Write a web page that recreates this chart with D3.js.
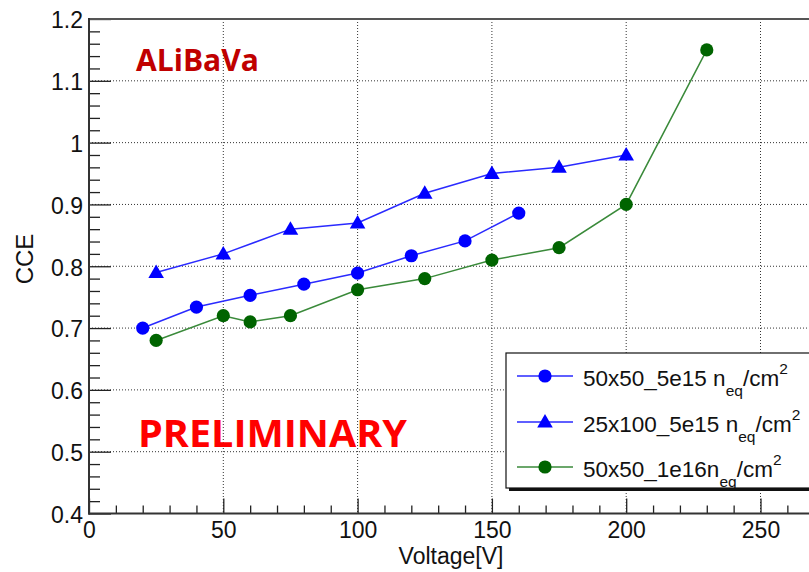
<!DOCTYPE html>
<html>
<head>
<meta charset="utf-8">
<script src="https://cdn.jsdelivr.net/npm/d3@7"></script>
<style>
  html, body { margin: 0; padding: 0; background: #fff; }
  svg { display: block; }
  text { font-family: "Liberation Sans", Arial, Helvetica, sans-serif; }
</style>
</head>
<body>
<svg id="chart" width="809" height="572"></svg>
<script>
// ---- data ----
const s1Voltage = [20, 40, 60, 80, 100, 120, 140, 160];
const s1CCE     = [0.700, 0.734, 0.753, 0.771, 0.789, 0.817, 0.841, 0.886];

const s2Voltage = [25, 50, 75, 100, 125, 150, 175, 200];
const s2CCE     = [0.790, 0.820, 0.860, 0.870, 0.918, 0.950, 0.960, 0.980];

const s3Voltage = [25, 50, 60, 75, 100, 125, 150, 175, 200, 230];
const s3CCE     = [0.680, 0.720, 0.710, 0.720, 0.762, 0.780, 0.810, 0.830, 0.900, 1.150];

const xMajorTicks = [0, 50, 100, 150, 200, 250];
const yMajorTicks = [0.4, 0.5, 0.6, 0.7, 0.8, 0.9, 1.0, 1.1, 1.2];

const seriesNames = ["50x50_5e15 n", "25x100_5e15 n", "50x50_1e16n"];

(function () {
// ---- layout ----
const svg = d3.select("#chart");
const pLeft = 89, pTop = 19, pBottom = 513.5;
const x = d3.scaleLinear().domain([0, 275]).range([pLeft, pLeft + 275 * 2.686]);
const y = d3.scaleLinear().domain([0.4, 1.2]).range([pBottom, pTop]);
const pRight = x.range()[1];

const xMinor = d3.range(0, 271, 10).filter(v => v % 50 !== 0);
const yMinor = d3.range(0, 41).map(i => 0.4 + i * 0.02).filter(v => Math.abs(v * 10 - Math.round(v * 10)) > 1e-6);

// grid
const grid = svg.append("g").attr("stroke", "#333").attr("stroke-width", 1).attr("stroke-dasharray", "1,2");
xMajorTicks.filter(v => v > 0).forEach(v => {
  grid.append("line").attr("x1", x(v)).attr("x2", x(v)).attr("y1", pTop).attr("y2", pBottom);
});
yMajorTicks.filter(v => v > 0.45 && v < 1.15).forEach(v => {
  grid.append("line").attr("x1", pLeft).attr("x2", pRight).attr("y1", y(v)).attr("y2", y(v));
});

// axes
const fmt = d => String(+d.toFixed(1));
const yAxis = svg.append("g").attr("transform", `translate(${pLeft},0)`)
  .call(d3.axisLeft(y).tickValues(yMajorTicks).tickSize(-22).tickPadding(6).tickFormat(fmt));
const yAxisMinor = svg.append("g").attr("transform", `translate(${pLeft},0)`)
  .call(d3.axisLeft(y).tickValues(yMinor).tickSize(-11).tickFormat(""));
const xAxis = svg.append("g").attr("transform", `translate(0,${pBottom})`)
  .call(d3.axisBottom(x).tickValues(xMajorTicks).tickSize(-15).tickPadding(8).tickFormat(d3.format("d")));
const xAxisMinor = svg.append("g").attr("transform", `translate(0,${pBottom})`)
  .call(d3.axisBottom(x).tickValues(xMinor).tickSize(-8).tickFormat(""));
[yAxis, yAxisMinor, xAxis, xAxisMinor].forEach(g => {
  g.select(".domain").remove();
  g.selectAll(".tick line").attr("stroke", "#222").attr("stroke-width", 1.3);
  g.selectAll("text").attr("font-size", 23).attr("fill", "#111");
});
yAxis.selectAll("text").attr("dy", "0.38em");

// frame
svg.append("line").attr("x1", pLeft).attr("x2", pRight).attr("y1", pTop).attr("y2", pTop)
  .attr("stroke", "#555").attr("stroke-width", 2.2);
svg.append("line").attr("x1", pLeft).attr("x2", pLeft).attr("y1", pTop - 1).attr("y2", pBottom + 1)
  .attr("stroke", "#333").attr("stroke-width", 2);
svg.append("line").attr("x1", pLeft - 1).attr("x2", pRight).attr("y1", pBottom).attr("y2", pBottom)
  .attr("stroke", "#333").attr("stroke-width", 2);

// axis titles
svg.append("text").attr("x", 451).attr("y", 564).attr("text-anchor", "middle")
  .attr("font-size", 23).attr("fill", "#111").text("Voltage[V]");
svg.append("text").attr("transform", "translate(33,259) rotate(-90)").attr("text-anchor", "middle")
  .attr("font-size", 24).attr("fill", "#111").text("CCE");

// series
const line = d3.line().x(d => x(d[0])).y(d => y(d[1]));
const triSym = d3.symbol().type(d3.symbolTriangle).size(105);
const series = [
  { v: s1Voltage, c: s1CCE, line: "#2a2aff", mark: "#0000ff", shape: "circle" },
  { v: s2Voltage, c: s2CCE, line: "#2a2aff", mark: "#0000ff", shape: "triangle" },
  { v: s3Voltage, c: s3CCE, line: "#3a8a3a", mark: "#006400", shape: "circle" }
];
series.forEach(s => {
  const pts = s.v.map((v, i) => [v, s.c[i]]);
  svg.append("path").attr("d", line(pts)).attr("fill", "none")
    .attr("stroke", s.line).attr("stroke-width", 1.5);
  const g = svg.append("g");
  pts.forEach(p => {
    if (s.shape === "circle") {
      g.append("circle").attr("cx", x(p[0])).attr("cy", y(p[1])).attr("r", 6.6).attr("fill", s.mark);
    } else {
      g.append("path").attr("d", triSym()).attr("transform", `translate(${x(p[0])},${y(p[1]) + 1})`).attr("fill", s.mark);
    }
  });
});

// annotations
svg.append("text").attr("x", 136).attr("y", 71).style("font-family", "'Open Sans', sans-serif")
  .style("font-weight", "bold").attr("font-size", 30).attr("fill", "#c00000")
  .attr("textLength", 123).attr("lengthAdjust", "spacingAndGlyphs").text("ALiBaVa");
svg.append("text").attr("x", 138).attr("y", 447).style("font-family", "'Open Sans', sans-serif")
  .style("font-weight", "bold").attr("font-size", 37.5).attr("fill", "#ff0000")
  .attr("textLength", 269).attr("lengthAdjust", "spacingAndGlyphs").text("PRELIMINARY");

// legend
const lg = svg.append("g");
lg.append("rect").attr("x", 509).attr("y", 356).attr("width", 320).attr("height", 135).attr("fill", "#111");
lg.append("rect").attr("x", 506).attr("y", 353).attr("width", 320).attr("height", 135)
  .attr("fill", "#fff").attr("stroke", "#111").attr("stroke-width", 1.2);
const rowY = [376, 422, 467];
series.forEach((s, i) => {
  const yy = rowY[i];
  lg.append("line").attr("x1", 517).attr("x2", 573).attr("y1", yy).attr("y2", yy)
    .attr("stroke", s.line).attr("stroke-width", 1.5);
  if (s.shape === "circle") {
    lg.append("circle").attr("cx", 545).attr("cy", yy).attr("r", 6.6).attr("fill", s.mark);
  } else {
    lg.append("path").attr("d", triSym()).attr("transform", `translate(545,${yy + 1})`).attr("fill", s.mark);
  }
  const t = lg.append("text").attr("x", 583).attr("y", yy + 10).attr("font-size", 22.5).attr("fill", "#111");
  t.append("tspan").text(seriesNames[i]);
  t.append("tspan").attr("font-size", 15.5).attr("dy", 10).text("eq");
  t.append("tspan").attr("dy", -10).text("/cm");
  t.append("tspan").attr("font-size", 15.5).attr("dy", -12).text("2");
});
})();
</script>
</body>
</html>
